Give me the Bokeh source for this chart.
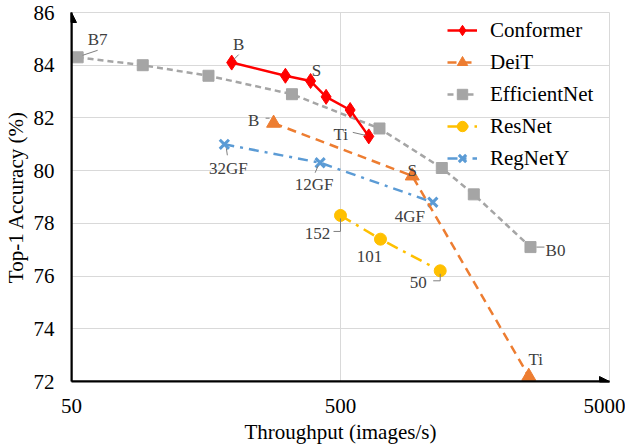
import math
from bokeh.plotting import figure
from bokeh.models import FixedTicker, Arrow, NormalHead
from bokeh.core.properties import value
from bokeh.embed import file_html
from bokeh.resources import INLINE

# ---------------- data ----------------
conf_x = [197, 312, 387, 442, 543, 637]
conf_y = [84.1, 83.6, 83.4, 82.8, 82.3, 81.3]
deit_x = [282, 924, 2505]
deit_y = [81.8, 79.8, 72.2]
eff_x = [52.7, 92, 161.5, 330, 698, 1190, 1565, 2542]
eff_y = [84.3, 84.0, 83.6, 82.9, 81.6, 80.1, 79.1, 77.1]
res_x = [500, 704, 1174]
res_y = [78.3, 77.4, 76.2]
reg_x = [185, 420, 1102]
reg_y = [81.0, 80.3, 78.8]

x_ticks = [50, 500, 5000]
x_tick_labels = ["50", "500", "5000"]
y_ticks = [72, 74, 76, 78, 80, 82, 84, 86]

# point annotations: (series x, series y, index, text)
annots = [
    (conf_x, conf_y, 0, "B"), (conf_x, conf_y, 2, "S"), (conf_x, conf_y, 5, "Ti"),
    (deit_x, deit_y, 0, "B"), (deit_x, deit_y, 1, "S"), (deit_x, deit_y, 2, "Ti"),
    (eff_x, eff_y, 0, "B7"), (eff_x, eff_y, 7, "B0"),
    (res_x, res_y, 0, "152"), (res_x, res_y, 1, "101"), (res_x, res_y, 2, "50"),
    (reg_x, reg_y, 0, "32GF"), (reg_x, reg_y, 1, "12GF"), (reg_x, reg_y, 2, "4GF"),
]
# label offsets in screen px (dx, dy down)
label_off = [(7, -18), (6, -11), (-28, -2),
             (-20, -3), (0, -5), (7, -17),
             (20, -18), (25, 3),
             (-23, 18), (-11, 17), (-22, 12),
             (4, 24), (-6, 22), (-23, 14)]
# leader lines as screen-px offset polylines from the point
leaders = {0: [(2, -3), (7, -8)], 2: [(-3, -1), (-16, -4)],
           3: [(-4, -5), (-8, -5)],
           6: [(5, -2), (20, -7)], 7: [(6, 0), (14, 0)],
           8: [(0, 3), (0, 16), (-7, 16)], 10: [(0, 3), (0, 10), (-7, 10)],
           11: [(2, 4), (3, 11)], 12: [(-2, 3), (-5, 10)]}

FW, FH = 538, 369
X_MIN, X_MAX, Y_MIN, Y_MAX = 50, 5000, 72, 86
PX_DEC = FW / math.log10(X_MAX / X_MIN)
PX_UNIT = FH / (Y_MAX - Y_MIN)

def shift(x, y, dx, dy):
    return x * 10 ** (dx / PX_DEC), y - dy / PX_UNIT

FONT = "Liberation Serif"

p = figure(x_axis_type="log", x_range=(X_MIN, X_MAX), y_range=(Y_MIN, Y_MAX),
           frame_width=FW, frame_height=FH, output_backend="svg",
           toolbar_location=None, min_border_left=60, min_border_right=16,
           min_border_top=12, min_border_bottom=50)
p.background_fill_color = "white"
p.outline_line_color = "#D9D9D9"
p.outline_line_width = 1

for ax in (p.xaxis[0], p.yaxis[0]):
    ax.axis_line_color = "black"
    ax.axis_line_width = 2
    ax.major_tick_line_color = None
    ax.minor_tick_line_color = None
    ax.major_tick_in = 0
    ax.major_tick_out = 0
    ax.major_label_text_font = FONT
    ax.major_label_text_font_size = "21px"
    ax.major_label_text_color = "black"
    ax.axis_label_text_font = FONT
    ax.axis_label_text_font_size = "21px"
    ax.axis_label_text_font_style = "normal"
    ax.axis_label_text_color = "black"

p.xaxis.ticker = FixedTicker(ticks=x_ticks, minor_ticks=[])
p.xaxis.major_label_overrides = {t: l for t, l in zip(x_ticks, x_tick_labels)}
p.xaxis.major_label_standoff = 17
p.xaxis.axis_label = "Throughput (images/s)"
p.xaxis.axis_label_standoff = 4
p.yaxis.ticker = FixedTicker(ticks=y_ticks, minor_ticks=[])
p.yaxis.major_label_standoff = 17
p.yaxis.axis_label = "Top-1 Accuracy (%)"
p.yaxis.axis_label_standoff = 3

p.xgrid.grid_line_color = "#D9D9D9"
p.ygrid.grid_line_color = "#D9D9D9"
p.xgrid.ticker = FixedTicker(ticks=x_ticks)
p.ygrid.ticker = FixedTicker(ticks=y_ticks)

# axis arrows
p.add_layout(Arrow(x_start=X_MIN, y_start=Y_MIN, x_end=X_MAX, y_end=Y_MIN,
                   line_color="black", line_width=2,
                   end=NormalHead(size=10, fill_color="black", line_color="black")))
p.add_layout(Arrow(x_start=X_MIN, y_start=Y_MIN, x_end=X_MIN, y_end=Y_MAX,
                   line_color="black", line_width=2,
                   end=NormalHead(size=10, fill_color="black", line_color="black")))

# series
p.line(eff_x, eff_y, color="#A5A5A5", line_width=2.5, line_dash="6 4", legend_label="EfficientNet")
p.scatter(eff_x, eff_y, marker="square", size=11, color="#A5A5A5", legend_label="EfficientNet")

p.line(reg_x, reg_y, color="#5B9BD5", line_width=2.5, line_dash="10 6 3 6", legend_label="RegNetY")
p.scatter(reg_x, reg_y, marker="x", size=13, line_width=3, color="#5B9BD5", legend_label="RegNetY")

p.line(deit_x, deit_y, color="#ED7D31", line_width=2.5, line_dash="9 6", legend_label="DeiT")
p.scatter(deit_x, deit_y, marker="triangle", size=14, color="#ED7D31", legend_label="DeiT")

p.line(res_x, res_y, color="#FFC000", line_width=2.5, line_dash="12 6 3 6", legend_label="ResNet")
p.scatter(res_x, res_y, marker="circle", size=12, color="#FFC000", legend_label="ResNet")

p.line(conf_x, conf_y, color="#FF0000", line_width=2.5, legend_label="Conformer")
p.scatter(conf_x, conf_y, marker="diamond", size=15, color="#FF0000", legend_label="Conformer")

# leader lines
lx, ly = [], []
for k, pts in leaders.items():
    sx, sy, i, _ = annots[k]
    xs, ys = [], []
    for dx, dy in pts:
        a, b = shift(sx[i], sy[i], dx, dy)
        xs.append(a)
        ys.append(b)
    lx.append(xs)
    ly.append(ys)
p.multi_line(lx, ly, line_color="#7F7F7F", line_width=1)

# labels
tx = [a[0][a[2]] for a in annots]
ty = [a[1][a[2]] for a in annots]
tt = [a[3] for a in annots]
p.text(tx, ty, text=tt, x_offset=[o[0] for o in label_off], y_offset=[o[1] for o in label_off],
       text_font=value(FONT), text_font_size="17px", text_color="#404040",
       text_align="center", text_baseline="middle")

# legend order
leg = p.legend[0]
order = ["Conformer", "DeiT", "EfficientNet", "ResNet", "RegNetY"]
leg.items = sorted(leg.items, key=lambda it: order.index(it.label.value))
leg.location = "top_right"
leg.background_fill_alpha = 0
leg.border_line_color = None
leg.label_text_font = FONT
leg.label_text_font_size = "21px"
leg.label_text_color = "black"
leg.glyph_width = 30
leg.glyph_height = 26
leg.label_height = 26
leg.label_width = 114
leg.spacing = 6
leg.label_standoff = 13
leg.margin = 5
leg.padding = 4

open("out.html", "w").write(file_html(p, INLINE))
